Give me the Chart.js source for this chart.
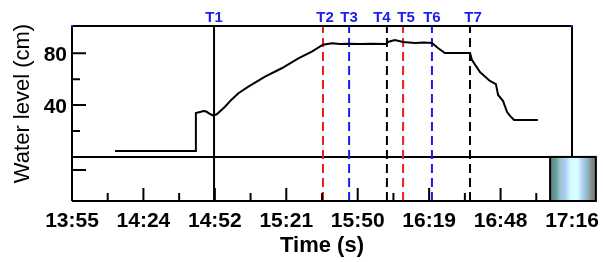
<!DOCTYPE html>
<html>
<head>
<meta charset="utf-8">
<script src="https://cdn.jsdelivr.net/npm/chart.js@4"></script>
<style>
  html, body { margin: 0; padding: 0; background: #fff; }
</style>
</head>
<body>
<canvas id="myChart" width="603" height="262"></canvas>
<script>
// minutes since 13:55 / water level in cm
const tiempo = [17.3, 49.8, 49.8, 51.5, 52.7, 54.0, 55.5, 56.7, 58.2, 61.5, 64.0, 66.9, 70.9, 77.6, 84.3, 91.0, 96.4, 100.9,
  104.5, 107.7, 111.0, 115.8, 120.5, 126.2, 127.0, 129.8, 133.1, 137.9, 141.5, 144.7, 147.1, 149.9, 160.0,
  160.8, 164.0, 168.0, 170.4, 171.3, 173.3, 174.9, 176.1, 177.7, 187.3];
const nivel = [4.5, 4.5, 33.9, 34.6, 35.4, 35.0, 33.1, 32.0, 32.9, 38.7, 44.0, 49.1, 54.2, 61.9, 68.4, 76.1, 81.2, 86.6,
  87.6, 87.1, 87.4, 87.1, 87.4, 87.1, 88.7, 90.2, 88.7, 87.9, 88.2, 87.9, 84.0, 80.2, 80.2,
  74.8, 65.5, 58.6, 56.2, 47.8, 43.1, 34.6, 31.6, 28.5, 28.5];

const marcas = ['T1', 'T2', 'T3', 'T4', 'T5', 'T6', 'T7'];
const marcasX = [57.1, 100.9, 111.4, 126.6, 133.1, 144.7, 160.0];
const marcasColor = ['#000000', '#ee1c1c', '#1c1cee', '#000000', '#ee1c1c', '#1c1cee', '#000000'];

const ticksX = [0, 28.71, 57.43, 86.14, 114.86, 143.57, 172.29, 201];
const ticksXLabels = ['13:55', '14:24', '14:52', '15:21', '15:50', '16:19', '16:48', '17:16'];
const ticksY = [80, 40, -10];
const ticksYLabels = ['80', '40', ''];
const ticksYMinor = [60, 20];

const X_MIN = 0, X_MAX = 201, Y_MIN = -34, Y_MAX = 101;
const BOX_X0 = 192.2, BOX_X1 = 210.6;

const datasets = [];
marcasX.forEach((mx, i) => {
  datasets.push({
    data: [{ x: mx, y: Y_MIN }, { x: mx, y: Y_MAX }],
    borderColor: marcasColor[i],
    borderWidth: 2,
    borderDash: i === 0 ? [] : [9, 5],
    pointRadius: 0,
    order: 2
  });
});
datasets.push({
  data: [{ x: X_MIN, y: 0 }, { x: X_MAX, y: 0 }],
  borderColor: '#000', borderWidth: 2, pointRadius: 0, order: 3
});
datasets.push({
  data: tiempo.map((t, i) => ({ x: t, y: nivel[i] })),
  borderColor: '#000', borderWidth: 2, pointRadius: 0, tension: 0, order: 1
});

const ejes = {
  id: 'ejes',
  afterDraw(chart) {
    const ctx = chart.ctx;
    const xs = chart.scales.x, ys = chart.scales.y;
    const L = xs.getPixelForValue(X_MIN), R = xs.getPixelForValue(X_MAX);
    const T = ys.getPixelForValue(Y_MAX), B = ys.getPixelForValue(Y_MIN);
    const y0 = ys.getPixelForValue(0);
    const bx0 = xs.getPixelForValue(BOX_X0), bx1 = xs.getPixelForValue(BOX_X1);
    ctx.save();
    ctx.strokeStyle = '#000';
    ctx.lineWidth = 2;
    ctx.beginPath();
    ctx.moveTo(L, B); ctx.lineTo(L, T); ctx.lineTo(R, T); ctx.lineTo(R, y0);
    ctx.moveTo(L, B); ctx.lineTo(bx0, B);
    ctx.stroke();

    // ticks inward
    ctx.beginPath();
    ticksX.forEach(v => { const p = xs.getPixelForValue(v); ctx.moveTo(p, B); ctx.lineTo(p, B - 13); });
    for (let i = 0; i < ticksX.length - 1; i++) {
      const p = xs.getPixelForValue((ticksX[i] + ticksX[i + 1]) / 2);
      ctx.moveTo(p, B); ctx.lineTo(p, B - 8);
    }
    ticksY.forEach(v => { const p = ys.getPixelForValue(v); ctx.moveTo(L, p); ctx.lineTo(L + 14, p); });
    ticksYMinor.forEach(v => { const p = ys.getPixelForValue(v); ctx.moveTo(L, p); ctx.lineTo(L + 8, p); });
    ctx.stroke();

    // box at bottom right
    const g = ctx.createLinearGradient(bx0, 0, bx1, 0);
    g.addColorStop(0, '#6e7c7c');
    g.addColorStop(0.12, '#5f9c9c');
    g.addColorStop(0.22, '#98c8cc');
    g.addColorStop(0.32, '#b0c8f4');
    g.addColorStop(0.45, '#d2fcff');
    g.addColorStop(0.6, '#d6ffff');
    g.addColorStop(0.7, '#b4d0f6');
    g.addColorStop(0.8, '#8cc0c4');
    g.addColorStop(0.9, '#8a8c90');
    g.addColorStop(1, '#6a7a7a');
    ctx.fillStyle = g;
    ctx.fillRect(bx0, y0, bx1 - bx0, B - y0);
    ctx.strokeRect(bx0, y0, bx1 - bx0, B - y0);

    // corner marks
    ctx.fillStyle = '#2020ff';
    ctx.fillRect(L - 1, T - 1, 2, 2);
    ctx.fillRect(R - 1, T - 1, 2, 2);

    // tick labels
    ctx.fillStyle = '#000';
    ctx.font = 'bold 21px "Liberation Sans", Arial, sans-serif';
    ctx.textAlign = 'center';
    ctx.textBaseline = 'alphabetic';
    ticksX.forEach((v, i) => ctx.fillText(ticksXLabels[i], xs.getPixelForValue(v), B + 26));
    ctx.textAlign = 'right';
    ticksY.forEach((v, i) => ctx.fillText(ticksYLabels[i], L - 5, ys.getPixelForValue(v) + 7.5));

    ctx.textAlign = 'center';
    ctx.font = 'bold 22px "Liberation Sans", Arial, sans-serif';
    ctx.fillText('Time (s)', (L + R) / 2, B + 51);

    ctx.save();
    ctx.translate(29, (T + B) / 2 - 10);
    ctx.rotate(-Math.PI / 2);
    ctx.font = '22px "Liberation Sans", Arial, sans-serif';
    ctx.fillText('Water level (cm)', 0, 0);
    ctx.restore();

    // marker names
    ctx.fillStyle = '#1c1cee';
    ctx.font = 'bold 15px "Liberation Sans", Arial, sans-serif';
    const desplaz = [0, 2, 0, -5, 3, 0, 3];
    marcasX.forEach((v, i) => ctx.fillText(marcas[i], xs.getPixelForValue(v) + desplaz[i], T - 4));
    ctx.restore();
  }
};

new Chart(document.getElementById('myChart'), {
  type: 'line',
  data: { datasets },
  options: {
    responsive: false,
    devicePixelRatio: 1,
    animation: false,
    layout: { padding: { left: 72, right: 31, top: 26, bottom: 61 } },
    plugins: { legend: { display: false }, tooltip: { enabled: false } },
    scales: {
      x: { type: 'linear', min: X_MIN, max: X_MAX, display: false },
      y: { type: 'linear', min: Y_MIN, max: Y_MAX, display: false }
    }
  },
  plugins: [ejes]
});
</script>
</body>
</html>
